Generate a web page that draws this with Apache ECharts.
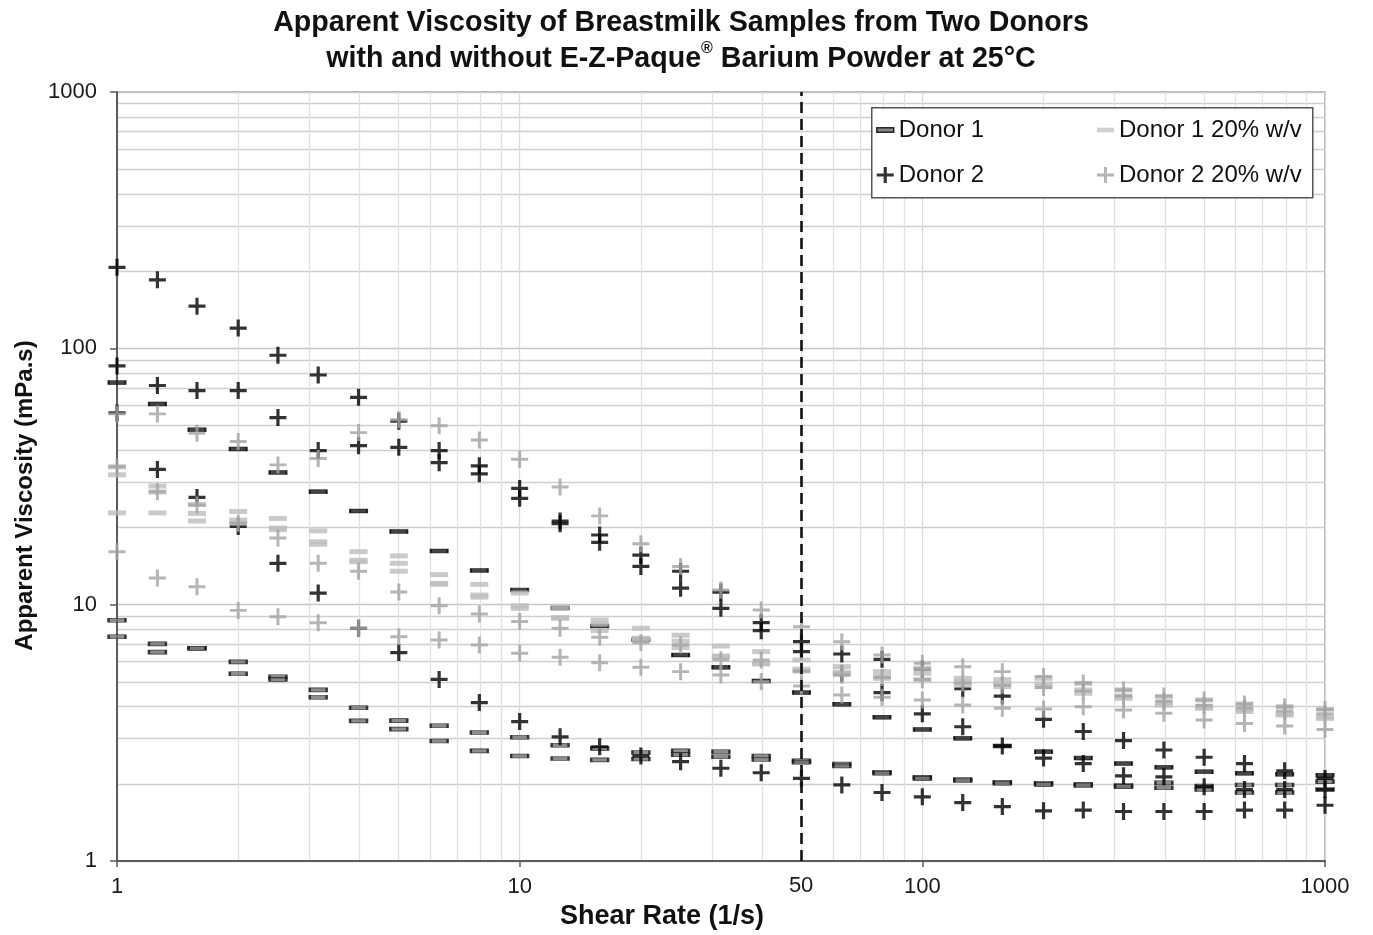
<!DOCTYPE html>
<html>
<head>
<meta charset="utf-8">
<title>Apparent Viscosity of Breastmilk Samples</title>
<script src="https://cdn.jsdelivr.net/npm/echarts@6/dist/echarts.min.js"></script>
<style>
  html, body { margin: 0; padding: 0; background: #ffffff; }
  #chart { width: 1373px; height: 935px; }
</style>
</head>
<body>
<div id="chart"></div>
<script>
// Shear rates (1/s), ten logarithmic steps per decade
const shearRates = [1, 1.26, 1.58, 2, 2.51, 3.16, 3.98, 5.01, 6.31, 7.94, 10, 12.6, 15.8, 20, 25.1, 31.6, 39.8, 50.1, 63.1, 79.4, 100, 126, 158, 200, 251, 316, 398, 501, 631, 794, 1000];

// Donor 1, plain breastmilk (mPa.s), three runs
const donor1RunA = [73.5, 60.7, 48.1, 40.5, 32.8, 27.6, 23.2, 19.3, 16.2, 13.6, 11.4, 9.7, 8.26, 7.3, 6.36, 5.7, 5.04, 4.54, 4.09, 3.64, 3.26, 3.01, 2.81, 2.67, 2.52, 2.4, 2.32, 2.23, 2.2, 2.18, 2.16];
const donor1RunB = [8.7, 7.03, 6.76, 5.98, 5.23, 4.65, 3.96, 3.53, 3.37, 3.17, 3.04, 2.83, 2.75, 2.65, 2.69, 2.67, 2.57, 2.46, 2.39, 2.22, 2.12, 2.08, 2.03, 2.01, 1.99, 1.97, 2.02, 1.96, 1.98, 1.98, 2.04];
const donor1RunC = [7.5, 6.53, 6.76, 5.38, 5.11, 4.35, 3.52, 3.27, 2.94, 2.69, 2.57, 2.51, 2.48, 2.5, 2.6, 2.55, 2.49, 2.43, 2.35, 2.2, 2.1, 2.06, 2.01, 1.99, 1.97, 1.95, 1.93, 1.9, 1.85, 1.85, 1.9];

// Donor 2, plain breastmilk (mPa.s), three runs
const donor2RunA = [207, 185, 146, 120, 94, 78.7, 64.4, 52, 39.9, 34.8, 28.4, 21.2, 18.7, 15.6, 13.5, 11.2, 8.51, 7.17, 6.42, 6.12, 5.6, 4.7, 4.4, 3.57, 3.2, 2.95, 2.71, 2.54, 2.4, 2.25, 2.1];
const donor2RunB = [85.4, 71.6, 68.4, 68.4, 53.7, 39.9, 41.7, 41.1, 35.8, 32.4, 26.0, 20.7, 17.5, 14.1, 11.6, 9.68, 7.92, 6.56, 5.4, 4.54, 3.75, 3.34, 2.81, 2.52, 2.4, 2.15, 2.13, 1.95, 1.9, 1.9, 1.9];
const donor2RunC = [56, 33.7, 26.2, 20.2, 14.5, 11.1, 8.09, 6.5, 5.11, 4.15, 3.5, 3.05, 2.79, 2.57, 2.44, 2.3, 2.21, 2.1, 1.98, 1.85, 1.78, 1.69, 1.63, 1.57, 1.58, 1.56, 1.56, 1.56, 1.58, 1.58, 1.65];

// Donor 1 with 20% w/v barium powder (mPa.s), three runs
const barium1RunA = [34.5, 29.0, 24.6, 23.1, 21.7, 19.4, 16.1, 15.5, 13.1, 12.0, 11.1, 9.68, 8.71, 8.09, 7.6, 6.9, 6.56, 6.08, 5.73, 5.48, 5.65, 5.16, 5.1, 5.16, 4.93, 4.65, 4.37, 4.25, 4.1, 4.0, 3.91];
const barium1RunB = [32.1, 27.5, 22.7, 21.4, 19.9, 17.6, 14.9, 14.5, 12.1, 10.9, 9.9, 8.85, 7.92, 7.28, 7.2, 6.27, 5.87, 5.51, 5.37, 5.16, 5.1, 4.86, 4.79, 4.79, 4.51, 4.31, 4.06, 3.94, 3.83, 3.71, 3.6];
const barium1RunC = [22.8, 22.8, 21.2, 20.8, 19.6, 17.2, 14.7, 13.5, 12.0, 10.7, 9.68, 8.9, 8.4, 7.4, 6.8, 6.3, 5.9, 5.6, 5.45, 5.25, 5.4, 5.0, 4.9, 4.9, 4.65, 4.4, 4.15, 4.0, 3.9, 3.75, 3.65];

// Donor 2 with 20% w/v barium powder (mPa.s), three runs
const barium2RunA = [55.5, 55.5, 46.6, 43.3, 35.1, 37.2, 46.9, 52.6, 49.9, 43.9, 36.9, 28.8, 22.2, 17.3, 14.1, 11.4, 9.53, 8.2, 7.17, 6.36, 5.91, 5.73, 5.48, 5.24, 4.95, 4.65, 4.4, 4.25, 4.1, 4.0, 3.9];
const barium2RunB = [34.5, 27.6, 24.5, 20.8, 18.2, 14.5, 13.5, 11.2, 9.9, 9.2, 8.59, 8.09, 7.46, 7.1, 6.96, 6.1, 6.08, 5.5, 5.3, 5.2, 5.1, 4.95, 4.85, 4.75, 4.6, 4.4, 4.2, 4.05, 3.95, 3.85, 3.75];
const barium2RunC = [16.1, 12.7, 11.75, 9.5, 8.97, 8.5, 8.09, 7.5, 7.28, 6.96, 6.46, 6.23, 5.94, 5.7, 5.48, 5.32, 5.0, 4.82, 4.44, 4.35, 4.25, 4.06, 3.94, 3.92, 4.0, 3.88, 3.77, 3.55, 3.44, 3.36, 3.26];

// Series names shown in the legend
const legendNames = ['Donor 1', 'Donor 2', 'Donor 1 20% w/v', 'Donor 2 20% w/v'];
// Shear rate marked by the dashed reference line
const referenceShearRate = 50;

const FONT = '"Liberation Sans", Arial, Helvetica, sans-serif';
const PLUS = 'path://M0,6.5H17V9.5H0ZM6.9,0H10.1V16H6.9Z';
const PLUS_GRAY = 'path://M0,6.6H17V9.4H0ZM7,0H10V16H7Z';
const DASH = 'path://M0,0H18V5H0Z';

function toPoints(values) {
  return shearRates.map((x, i) => [x, values[i]]);
}

function runSeries(name, values, look) {
  return Object.assign({
    type: 'scatter',
    name: name,
    data: toPoints(values),
    silent: true,
    animation: false
  }, look);
}

const lookDonor1Solid = { symbol: 'rect', symbolSize: [17, 4], itemStyle: { color: '#151515', borderColor: '#000', borderWidth: 1 } };
const lookDonor1 = { symbol: 'rect', symbolSize: [17, 4], itemStyle: { color: '#707070', borderColor: '#111', borderWidth: 1.2 } };
const lookDonor2 = { symbol: PLUS, symbolSize: [17, 17], itemStyle: { color: '#000' } };
const lookBarium1 = { symbol: 'rect', symbolSize: [18, 5], itemStyle: { color: '#bdbdbd' } };
const lookBarium2 = { symbol: PLUS_GRAY, symbolSize: [17, 17], itemStyle: { color: '#a3a3a3' } };

const series = [
  // dashed reference line at the chosen shear rate
  {
    type: 'scatter', name: 'reference', data: [], silent: true, z: 1,
    markLine: {
      silent: true, symbol: 'none', animation: false,
      lineStyle: { color: '#111', type: [11, 6], width: 2.6 },
      label: { show: true, position: 'start', formatter: String(referenceShearRate), fontSize: 22, color: '#1a1a1a', fontFamily: FONT, distance: 14 },
      data: [{ xAxis: referenceShearRate }]
    }
  },
  runSeries(legendNames[0], donor1RunA, lookDonor1Solid),
  runSeries(legendNames[0], donor1RunB, lookDonor1),
  runSeries(legendNames[0], donor1RunC, lookDonor1),
  runSeries(legendNames[1], donor2RunA, lookDonor2),
  runSeries(legendNames[1], donor2RunB, lookDonor2),
  runSeries(legendNames[1], donor2RunC, lookDonor2),
  runSeries(legendNames[2], barium1RunA, lookBarium1),
  runSeries(legendNames[2], barium1RunB, lookBarium1),
  runSeries(legendNames[2], barium1RunC, lookBarium1),
  runSeries(legendNames[3], barium2RunA, lookBarium2),
  runSeries(legendNames[3], barium2RunB, lookBarium2),
  runSeries(legendNames[3], barium2RunC, lookBarium2)
];

const legendText = { fontSize: 24, color: '#111', fontFamily: FONT };
const tickLabel = { fontSize: 22, color: '#1a1a1a', fontFamily: FONT, formatter: (v) => String(Math.round(v)) };

const option = {
  backgroundColor: '#ffffff',
  animation: false,
  title: {
    left: 681,
    textAlign: 'center',
    top: 5,
    padding: 0,
    text: '{t|Apparent Viscosity of Breastmilk Samples from Two Donors}\n{t|with and without E-Z-Paque}{s|®}{t| Barium Powder at 25°C}',
    textStyle: {
      rich: {
        t: { fontSize: 28.6, fontWeight: 'bold', color: '#111', fontFamily: FONT, lineHeight: 36 },
        s: { fontSize: 16, fontWeight: 'bold', color: '#111', fontFamily: FONT, lineHeight: 18, verticalAlign: 'top' }
      }
    }
  },
  grid: {
    left: 117, right: 48, top: 92, bottom: 74,
    show: true, borderColor: '#a0a0a0', borderWidth: 1.5, backgroundColor: 'transparent'
  },
  graphic: [{
    type: 'rect', left: 871, top: 107, z: 3,
    shape: { width: 441, height: 90 },
    style: { fill: '#ffffff', stroke: '#555555', lineWidth: 1.5 }
  }],
  legend: [
    {
      orient: 'vertical', left: 876, top: 118, padding: 0, itemGap: 21,
      itemWidth: 17, itemHeight: 16, textStyle: legendText, selectedMode: false, z: 5,
      data: [
        { name: legendNames[0], icon: DASH, itemStyle: { color: '#6a6a6a', borderColor: '#000', borderWidth: 1.5 } },
        { name: legendNames[1], icon: PLUS, itemStyle: { color: '#000' } }
      ]
    },
    {
      orient: 'vertical', left: 1097, top: 118, padding: 0, itemGap: 21,
      itemWidth: 17, itemHeight: 16, textStyle: legendText, selectedMode: false, z: 5,
      data: [
        { name: legendNames[2], icon: DASH, itemStyle: { color: '#c4c4c4' } },
        { name: legendNames[3], icon: PLUS_GRAY, itemStyle: { color: '#a3a3a3' } }
      ]
    }
  ],
  xAxis: {
    type: 'log', logBase: 10, min: 1, max: 1000,
    axisLine: { show: true, lineStyle: { color: '#5c5c5c', width: 2 } },
    axisTick: { show: true, length: 6, lineStyle: { color: '#5c5c5c', width: 1.5 } },
    axisLabel: Object.assign({ margin: 15 }, tickLabel),
    splitLine: { show: true, lineStyle: { color: '#dadada', width: 1.3 } },
    minorTick: { show: false, splitNumber: 9 },
    minorSplitLine: { show: true, lineStyle: { color: '#e0e0e0', width: 1.3 } },
    name: 'Shear Rate (1/s)', nameLocation: 'middle', nameGap: 40,
    nameTextStyle: { fontSize: 27, fontWeight: 'bold', color: '#111', fontFamily: FONT, padding: [0, 118, 0, 0] }
  },
  yAxis: {
    type: 'log', logBase: 10, min: 1, max: 1000,
    axisLine: { show: true, lineStyle: { color: '#5c5c5c', width: 2 } },
    axisTick: { show: true, length: 7, lineStyle: { color: '#5c5c5c', width: 1.5 } },
    axisLabel: Object.assign({ margin: 20 }, tickLabel),
    splitLine: { show: true, lineStyle: { color: '#c6c6c6', width: 1.3 } },
    minorTick: { show: false, splitNumber: 9 },
    minorSplitLine: { show: true, lineStyle: { color: '#cfcfcf', width: 1.3 } },
    name: 'Apparent Viscosity (mPa.s)', nameLocation: 'middle', nameGap: 72,
    nameTextStyle: { fontSize: 24, fontWeight: 'bold', color: '#111', fontFamily: FONT, padding: [0, 38, 0, 0] }
  },
  series: series
};

const chart = echarts.init(document.getElementById('chart'), null, { renderer: 'canvas' });
chart.setOption(option);
</script>
</body>
</html>
